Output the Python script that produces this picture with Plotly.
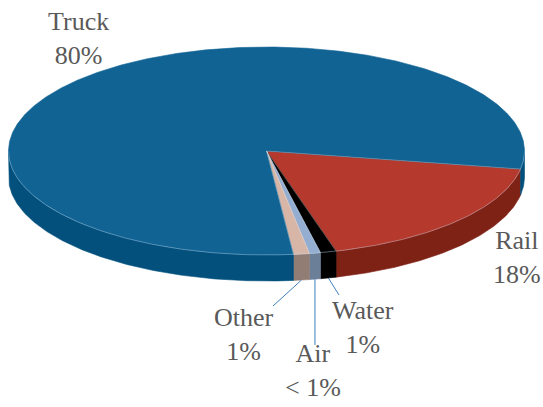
import numpy as np
import plotly.graph_objects as go

# Freight mode share
modes = ["Rail", "Water", "Air", "Other", "Truck"]
shares = [18, 1, 0.7, 1, 80]
label_text = ["Rail<br>18%", "Water<br>1%", "Air<br>< 1%", "Other<br>1%", "Truck<br>80%"]

top_colors = ["#B5392D", "#000000", "#93AED0", "#D7B6A7", "#116394"]
side_colors = ["#7F2216", "#000000", "#6C7F98", "#927D74", "#03507D"]

# Pseudo-3D pie geometry (pixel space of the canvas)
W, H = 543, 407
cx, cy = 266.5, 151.0
rx, ry = 258.0, 104.0
depth = 26.0
start_deg = -10.0


def pt(theta_deg, dy=0.0):
    t = np.radians(theta_deg)
    return cx + rx * np.cos(t), cy - ry * np.sin(t) + dy


def arc(a, b, dy=0.0):
    n = max(2, int(abs(b - a) * 2) + 2)
    th = np.linspace(a, b, n)
    xs, ys = pt(th, dy)
    return list(xs), list(ys)


total = float(sum(shares))
bounds = []
a = start_deg
for v in shares:
    b = a - v / total * 360.0
    bounds.append((a, b))
    a = b

fig = go.Figure()

# Side walls: only the front half of the rim (angles between -180 and 0, mod 360)
for (a, b), col in zip(bounds, side_colors):
    pieces = []
    for k in (0, -360):
        lo, hi = max(b, -180 + k), min(a, 0 + k)
        if hi > lo:
            pieces.append((hi, lo))
    for hi, lo in pieces:
        tx, ty = arc(hi, lo)
        bx, by = arc(lo, hi, depth)
        fig.add_trace(go.Scatter(
            x=tx + bx + [tx[0]], y=ty + by + [ty[0]],
            fill="toself", fillcolor=col, mode="lines",
            line=dict(width=0.6, color=col), hoverinfo="skip", showlegend=False))

# Top faces
for (a, b), col, name in zip(bounds, top_colors, modes):
    ax_, ay_ = arc(a, b)
    fig.add_trace(go.Scatter(
        x=[cx] + ax_ + [cx], y=[cy] + ay_ + [cy],
        fill="toself", fillcolor=col, mode="lines",
        line=dict(width=0.6, color=col), name=name,
        hoverinfo="name", showlegend=False))

# Light seams between slices on the top face
for (a, b) in bounds:
    ex, ey = pt(a)
    fig.add_trace(go.Scatter(
        x=[cx, ex], y=[cy, ey], mode="lines",
        line=dict(width=0.7, color="rgba(255,255,255,0.35)"),
        hoverinfo="skip", showlegend=False))

# Rim highlight along the front edge of the top face
rx_, ry_ = arc(-180, 0)
fig.add_trace(go.Scatter(
    x=rx_, y=ry_, mode="lines",
    line=dict(width=0.8, color="rgba(200,225,245,0.45)"),
    hoverinfo="skip", showlegend=False))

# Leader lines for the small slices
leader_ends = {"Water": (339, 295), "Air": (None, 345), "Other": (273, 306)}
for (a, b), name in zip(bounds, modes):
    if name in leader_ends:
        mx, my = pt((a + b) / 2.0, depth)
        ex, ey = leader_ends[name]
        if ex is None:
            ex = mx
        fig.add_trace(go.Scatter(
            x=[mx, ex], y=[my, ey], mode="lines",
            line=dict(width=1, color="#3F7FBF"),
            hoverinfo="skip", showlegend=False))

# Category labels
label_pos = {"Truck": (78, 38), "Rail": (517, 257), "Water": (363, 327),
             "Other": (244, 334), "Air": (313, 370)}
for name, txt in zip(modes, label_text):
    x, y = label_pos[name]
    fig.add_annotation(x=x, y=y, xref="x", yref="y", text=txt, showarrow=False,
                       xanchor="center", yanchor="middle",
                       font=dict(family="Liberation Serif, Times New Roman, serif",
                                 size=26, color="#595959"))

fig.update_xaxes(range=[0, W], visible=False, fixedrange=True)
fig.update_yaxes(range=[H, 0], visible=False, fixedrange=True)
fig.update_layout(width=W, height=H, margin=dict(l=0, r=0, t=0, b=0),
                  paper_bgcolor="white", plot_bgcolor="white")

fig.write_html("out.html")
